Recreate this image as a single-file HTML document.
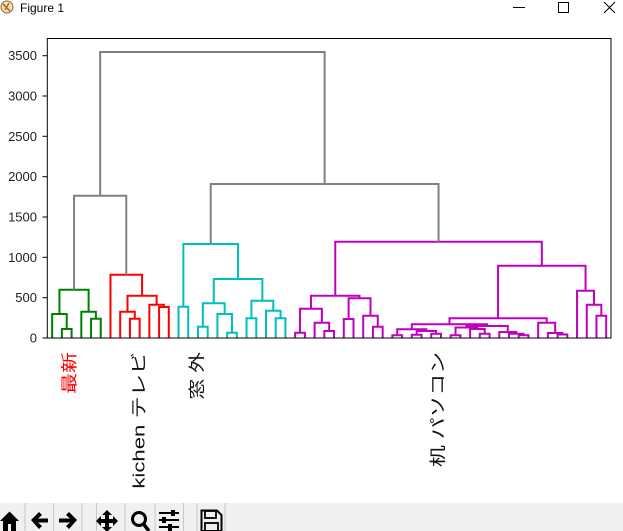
<!DOCTYPE html>
<html>
<head>
<meta charset="utf-8">
<style>
  html, body { margin: 0; padding: 0; background: #ffffff; }
  body { width: 623px; height: 531px; overflow: hidden; }
  svg { display: block; }
</style>
</head>
<body>
<svg width="623" height="531" viewBox="0 0 623 531" xmlns="http://www.w3.org/2000/svg">
  <rect x="0" y="0" width="623" height="531" fill="#ffffff"/>

  <!-- Title bar -->
  <g>
    <circle cx="7" cy="7" r="6" fill="#f3e2c4" stroke="#8a6a3a" stroke-width="1"/>
    <path d="M3 4 L10 11 M5 10 L9 3" stroke="#c06a10" stroke-width="1.6"/>
    <text x="20" y="12" font-family="Liberation Sans, sans-serif" font-size="12" fill="#000">Figure 1</text>
    <line x1="513" y1="7.5" x2="525" y2="7.5" stroke="#000" stroke-width="1"/>
    <rect x="558.5" y="2.5" width="10" height="10" fill="none" stroke="#000" stroke-width="1"/>
    <path d="M604 2 L615 13 M615 2 L604 13" stroke="#000" stroke-width="1"/>
  </g>

  <!-- Dendrogram: green -->
  <g fill="none" stroke-width="2" stroke-linejoin="miter" stroke-linecap="butt">
    <g stroke="#008000">
      <path d="M52.16 338 V314 H66.74 V329"/>
      <path d="M61.88 338 V329 H71.60 V338"/>
      <path d="M81.32 338 V311.7 H95.90 V318.7"/>
      <path d="M91.04 338 V318.7 H100.76 V338"/>
      <path d="M59.45 314 V289.7 H88.61 V311.7"/>
    </g>
    <g stroke="#ff0000">
      <path d="M129.92 338 V318.7 H139.64 V338"/>
      <path d="M120.20 338 V311.7 H134.78 V318.7"/>
      <path d="M159.08 338 V307 H168.80 V338"/>
      <path d="M149.36 338 V304.7 H163.94 V307"/>
      <path d="M127.49 311.7 V295.7 H156.65 V304.7"/>
      <path d="M110.48 338 V274.7 H142.07 V295.7"/>
    </g>
    <g stroke="#00bfbf">
      <path d="M178.52 338 V306.7 H188.24 V338"/>
      <path d="M197.96 338 V326.7 H207.68 V338"/>
      <path d="M227.12 338 V332.7 H236.84 V338"/>
      <path d="M217.40 338 V314 H231.98 V332.7"/>
      <path d="M202.82 326.7 V303.3 H224.69 V314"/>
      <path d="M246.56 338 V318.3 H256.28 V338"/>
      <path d="M275.72 338 V318.3 H285.44 V338"/>
      <path d="M266.00 338 V310.7 H280.58 V318.3"/>
      <path d="M251.42 318.3 V300.7 H273.29 V310.7"/>
      <path d="M213.76 303.3 V279 H262.36 V300.7"/>
      <path d="M183.38 306.7 V244 H238.06 V279"/>
    </g>
    <g stroke="#bf00bf">
      <path d="M295.16 338 V332.7 H304.88 V338"/>
      <path d="M324.32 338 V331 H334.04 V338"/>
      <path d="M314.60 338 V322.7 H329.18 V331"/>
      <path d="M300.02 332.7 V308.7 H321.89 V322.7"/>
      <path d="M343.76 338 V319 H353.48 V338"/>
      <path d="M372.92 338 V326.7 H382.64 V338"/>
      <path d="M363.20 338 V315.7 H377.78 V326.7"/>
      <path d="M348.62 319 V298.3 H370.49 V315.7"/>
      <path d="M310.96 308.7 V295.7 H359.56 V298.3"/>

      <path d="M392.36 338 V335.3 H402.08 V338"/>
      <path d="M411.80 338 V334.7 H421.52 V338"/>
      <path d="M431.24 338 V333.7 H440.96 V338"/>
      <path d="M416.66 334.7 V331 H436.10 V333.7"/>
      <path d="M397.22 335.3 V329.3 H426.38 V331"/>
      <path d="M450.68 338 V335.3 H460.40 V338"/>
      <path d="M479.84 338 V333.7 H489.56 V338"/>
      <path d="M470.12 338 V329 H484.70 V333.7"/>
      <path d="M455.54 335.3 V327.5 H477.41 V329"/>
      <path d="M518.72 338 V335.3 H528.44 V338"/>
      <path d="M509.00 338 V333.7 H523.58 V335.3"/>
      <path d="M499.28 338 V332 H516.29 V333.7"/>
      <path d="M466.48 327.5 V326 H507.79 V332"/>
      <path d="M411.80 329.3 V324.3 H487.13 V326"/>
      <path d="M557.60 338 V334.5 H567.32 V338"/>
      <path d="M547.88 338 V333 H562.46 V334.5"/>
      <path d="M538.16 338 V322.7 H555.17 V333"/>
      <path d="M449.47 324.3 V318.3 H546.67 V322.7"/>

      <path d="M596.48 338 V315.7 H606.20 V338"/>
      <path d="M586.76 338 V304.7 H601.34 V315.7"/>
      <path d="M577.04 338 V290.7 H594.05 V304.7"/>
      <path d="M498.07 318.3 V265.7 H585.55 V290.7"/>
      <path d="M335.26 295.7 V241.7 H541.81 V265.7"/>
    </g>
    <g stroke="#808080">
      <path d="M74.03 289.7 V195.7 H126.28 V274.7"/>
      <path d="M210.72 244 V184 H438.54 V241.7"/>
      <path d="M100.15 195.7 V52 H324.63 V184"/>
    </g>
  </g>

  <!-- Axes frame -->
  <rect x="47.3" y="38.5" width="563.7" height="299.5" fill="none" stroke="#000" stroke-width="1"/>

  <!-- Y ticks -->
  <g stroke="#000" stroke-width="1">
    <line x1="42.5" y1="338" x2="47.3" y2="338"/>
    <line x1="42.5" y1="297.7" x2="47.3" y2="297.7"/>
    <line x1="42.5" y1="257.3" x2="47.3" y2="257.3"/>
    <line x1="42.5" y1="217" x2="47.3" y2="217"/>
    <line x1="42.5" y1="176.7" x2="47.3" y2="176.7"/>
    <line x1="42.5" y1="136.3" x2="47.3" y2="136.3"/>
    <line x1="42.5" y1="96" x2="47.3" y2="96"/>
    <line x1="42.5" y1="55.7" x2="47.3" y2="55.7"/>
  </g>
  <g font-family="Liberation Sans, sans-serif" font-size="13" fill="#222" text-anchor="end">
    <text x="37" y="342.5">0</text>
    <text x="37" y="302.2">500</text>
    <text x="37" y="261.8">1000</text>
    <text x="37" y="221.5">1500</text>
    <text x="37" y="181.2">2000</text>
    <text x="37" y="140.8">2500</text>
    <text x="37" y="100.5">3000</text>
    <text x="37" y="60.2">3500</text>
  </g>

  <!-- X labels (rotated) -->
  <g font-family="Liberation Sans, Noto Sans CJK JP, sans-serif" font-size="16.5" text-anchor="end" dominant-baseline="central">
    <text transform="translate(70,352) rotate(-90)" fill="#ff0000" textLength="42" lengthAdjust="spacingAndGlyphs">最新</text>
    <text transform="translate(139.5,352) rotate(-90)" fill="#111" textLength="136.7" lengthAdjust="spacingAndGlyphs">kichen テレビ</text>
    <text transform="translate(197.5,352) rotate(-90)" fill="#111" textLength="47.7" lengthAdjust="spacingAndGlyphs">窓 外</text>
    <text transform="translate(438.5,352) rotate(-90)" fill="#111" textLength="115" lengthAdjust="spacingAndGlyphs">机 パソコン</text>
  </g>

  <!-- Toolbar -->
  <rect x="0" y="503" width="623" height="28" fill="#f0f0f0"/>
  <g stroke="#c8c8c8" stroke-width="1">
    <line x1="25" y1="503" x2="25" y2="531"/>
    <line x1="53.5" y1="503" x2="53.5" y2="531"/>
    <line x1="82" y1="503" x2="82" y2="531"/>
    <line x1="96.5" y1="503" x2="96.5" y2="531"/>
    <line x1="125" y1="503" x2="125" y2="531"/>
    <line x1="155" y1="503" x2="155" y2="531"/>
    <line x1="183.5" y1="503" x2="183.5" y2="531"/>
    <line x1="197" y1="503" x2="197" y2="531"/>
    <line x1="225" y1="503" x2="225" y2="531"/>
  </g>
  <g fill="#000" stroke="none">
    <!-- home -->
    <path d="M0 521 L9.5 511.5 L19 521 L16 521 L16 531 L3 531 L3 521 Z"/>
    <rect x="8" y="524" width="3" height="7" fill="#f0f0f0"/>
    <!-- back -->
    <path d="M31 520 L39 512 L42 515 L38 518.5 L48 518.5 L48 522.5 L38 522.5 L42 526 L39 529 Z"/>
    <!-- forward -->
    <path d="M77 520 L69 512 L66 515 L70 518.5 L59 518.5 L59 522.5 L70 522.5 L66 526 L69 529 Z"/>
    <!-- move -->
    <path d="M107 510 L112 515 L109 515 L109 519 L113 519 L113 516 L118 521 L113 526 L113 523 L109 523 L109 527 L112 527 L107 532 L102 527 L105 527 L105 523 L101 523 L101 526 L96 521 L101 516 L101 519 L105 519 L105 515 L102 515 Z"/>
  </g>
  <!-- zoom -->
  <circle cx="139" cy="519" r="6.5" fill="none" stroke="#000" stroke-width="3"/>
  <line x1="143.5" y1="524" x2="149" y2="531" stroke="#000" stroke-width="3.5"/>
  <!-- sliders -->
  <g stroke="#000" stroke-width="2">
    <line x1="159" y1="513" x2="179" y2="513"/>
    <line x1="159" y1="520" x2="179" y2="520"/>
    <line x1="159" y1="527" x2="179" y2="527"/>
  </g>
  <g fill="#000">
    <rect x="171" y="510" width="4" height="6"/>
    <rect x="162" y="517" width="4" height="6"/>
    <rect x="168" y="524" width="4" height="7"/>
  </g>
  <!-- save -->
  <path d="M201.5 510.5 H217 L221.5 515 V531 H201.5 Z" fill="none" stroke="#000" stroke-width="2"/>
  <rect x="205" y="511" width="11" height="7" fill="none" stroke="#000" stroke-width="1.8"/>
  <rect x="205" y="523" width="13" height="8" fill="none" stroke="#000" stroke-width="1.8"/>
</svg>
</body>
</html>
